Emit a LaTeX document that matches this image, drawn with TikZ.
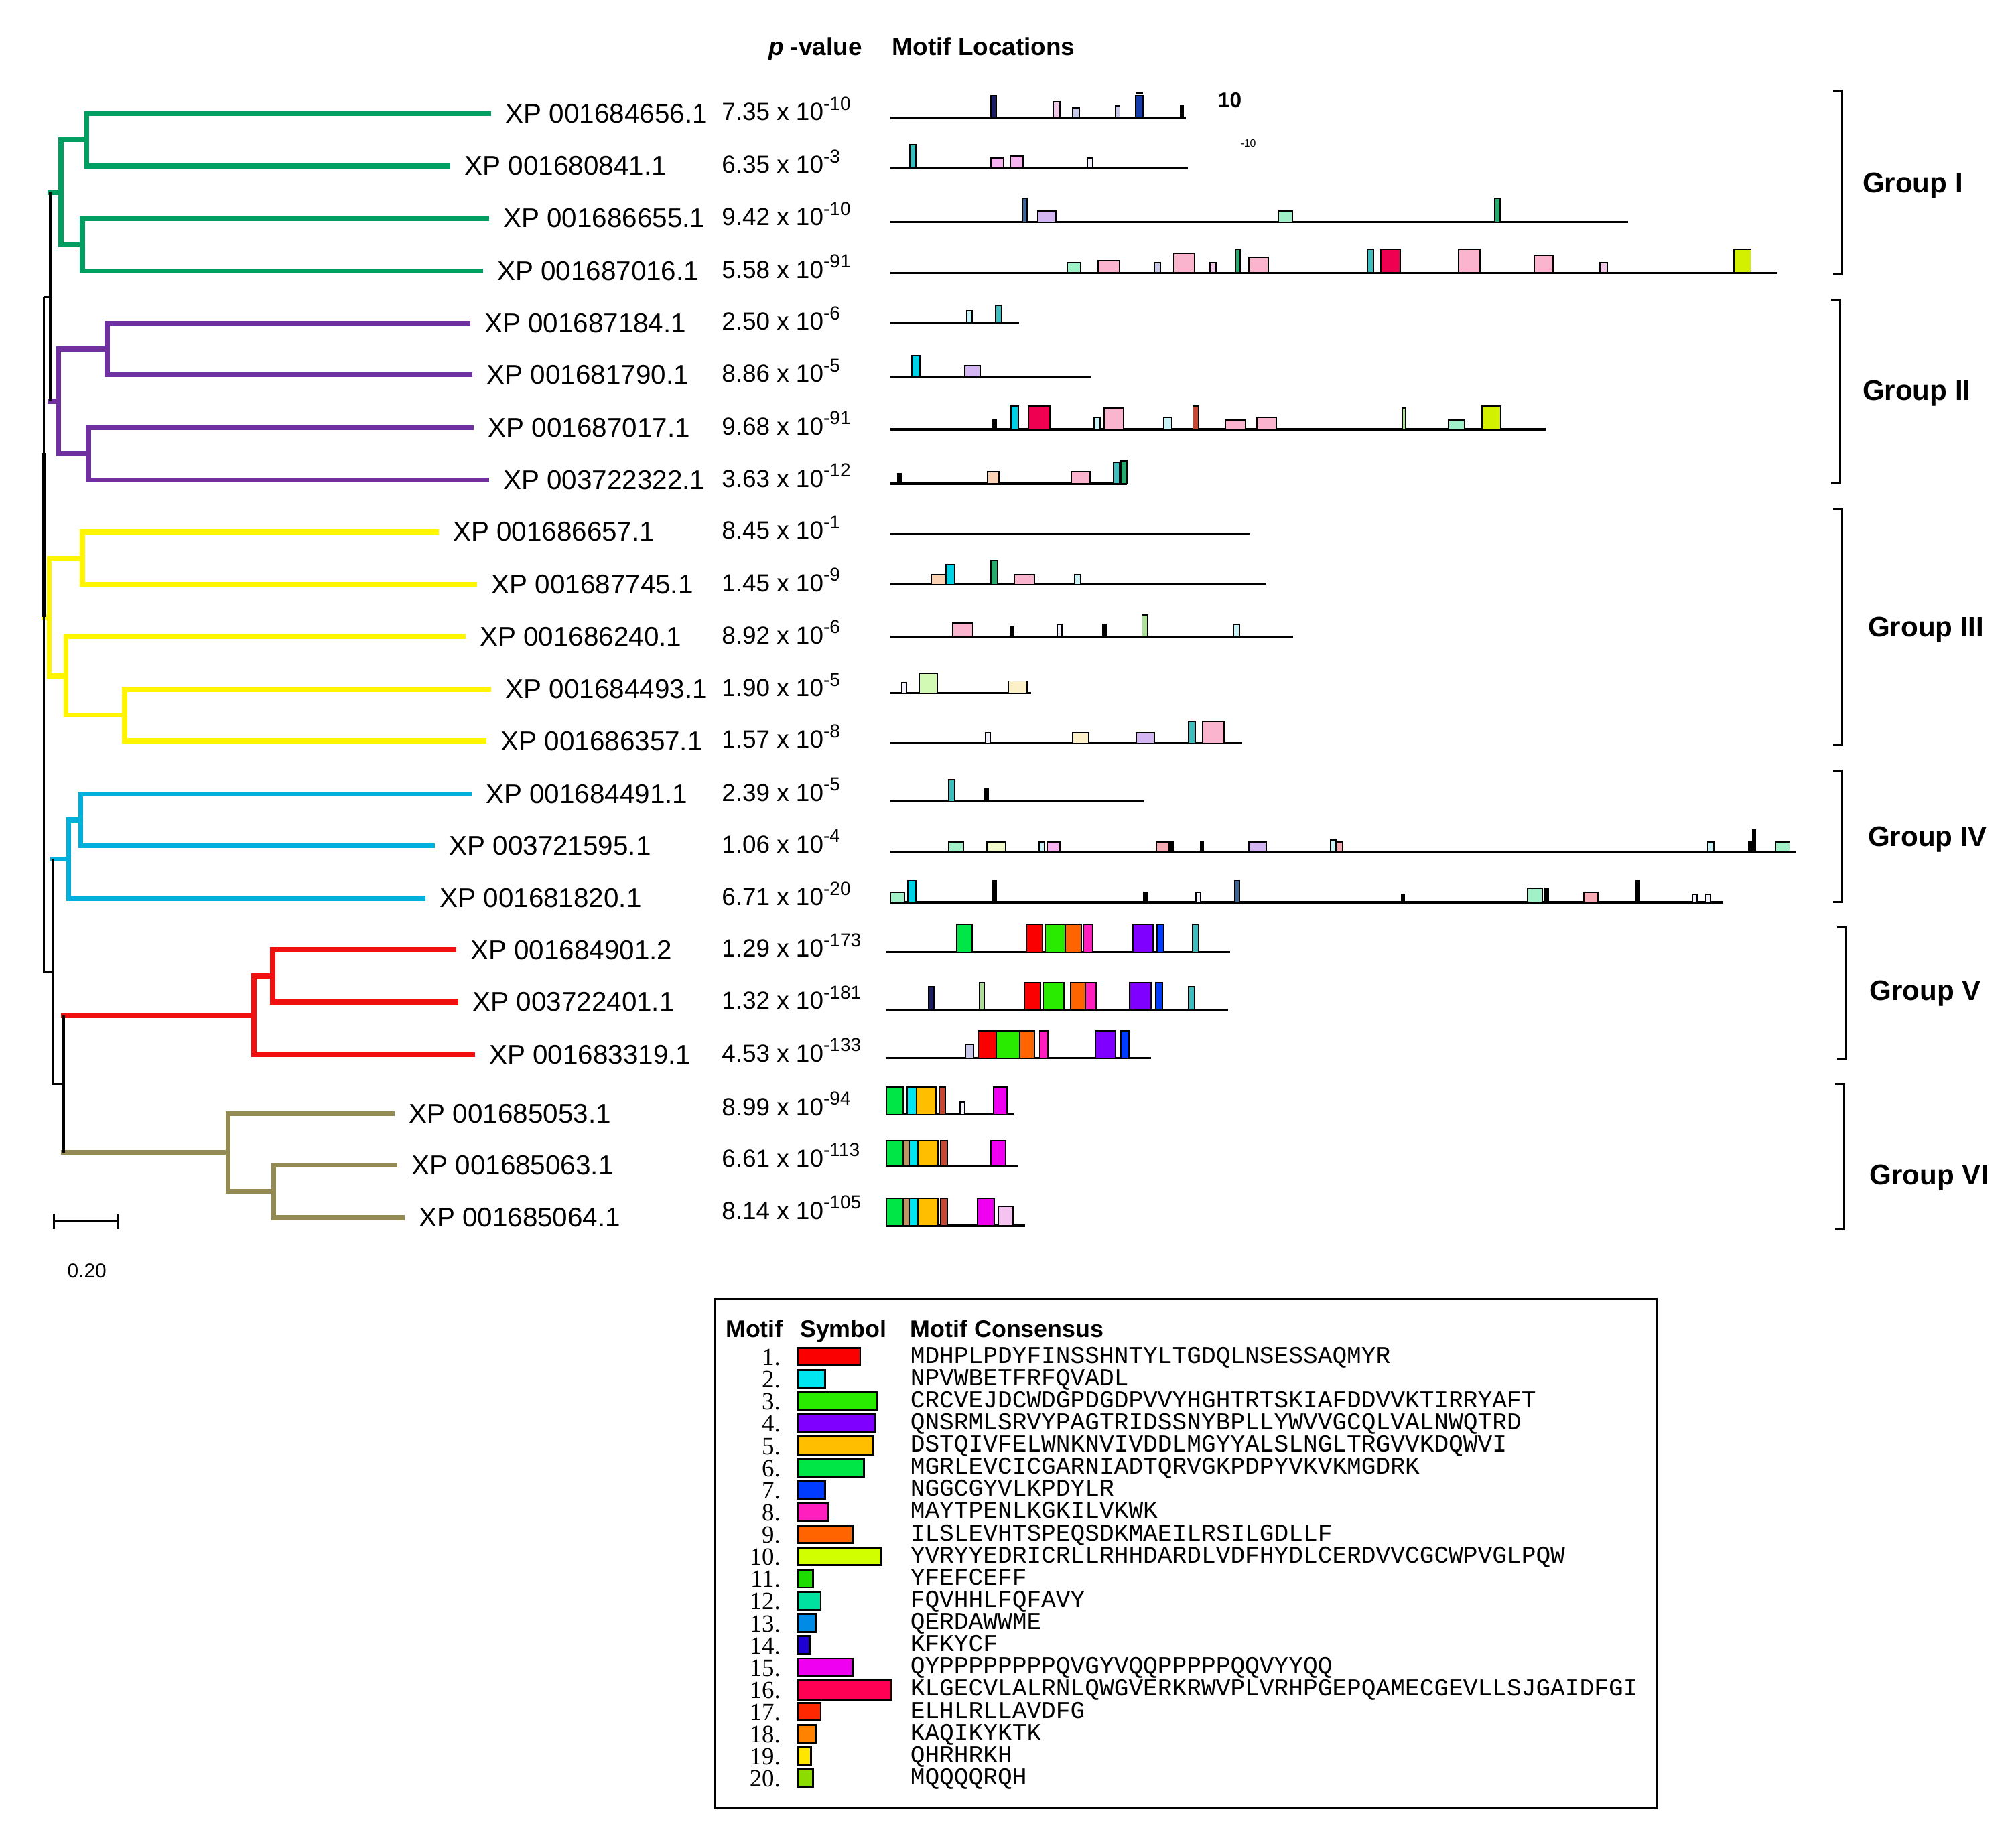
\documentclass[tikz,border=0pt]{standalone}
\usepackage{fontspec}
\setmainfont{Liberation Sans}
\newfontfamily\seqfont{Liberation Mono}
\newfontfamily\numfont{Liberation Serif}
\usepackage{tikz}
\usetikzlibrary{positioning}

% clade colours
\definecolor{cI}{RGB}{0,158,96}
\definecolor{cII}{RGB}{112,48,160}
\definecolor{cIII}{RGB}{255,245,0}
\definecolor{cIV}{RGB}{0,176,220}
\definecolor{cV}{RGB}{240,16,16}
\definecolor{cVI}{RGB}{148,138,84}
% motif colours (legend)
\definecolor{m1}{RGB}{250,0,0}
\definecolor{m2}{RGB}{0,230,240}
\definecolor{m3}{RGB}{40,235,0}
\definecolor{m4}{RGB}{128,0,255}
\definecolor{m5}{RGB}{255,190,0}
\definecolor{m6}{RGB}{0,230,70}
\definecolor{m7}{RGB}{0,60,255}
\definecolor{m8}{RGB}{255,30,190}
\definecolor{m9}{RGB}{255,100,0}
\definecolor{m10}{RGB}{210,255,0}
\definecolor{m11}{RGB}{30,220,0}
\definecolor{m12}{RGB}{0,225,160}
\definecolor{m13}{RGB}{0,140,230}
\definecolor{m14}{RGB}{30,0,210}
\definecolor{m15}{RGB}{240,0,240}
\definecolor{m16}{RGB}{255,0,85}
\definecolor{m17}{RGB}{255,40,0}
\definecolor{m18}{RGB}{255,130,0}
\definecolor{m19}{RGB}{255,230,0}
\definecolor{m20}{RGB}{140,220,0}
% pale motif colours (tracks)
\definecolor{tNavy}{RGB}{30,30,100}
\definecolor{tBlue}{RGB}{20,60,170}
\definecolor{tPinkV}{RGB}{240,200,230}
\definecolor{tLavG}{RGB}{200,200,232}
\definecolor{tWhite}{RGB}{242,242,255}
\definecolor{tTeal}{RGB}{60,190,190}
\definecolor{tMagL}{RGB}{245,180,240}
\definecolor{tSteel}{RGB}{60,100,150}
\definecolor{tLav}{RGB}{212,182,242}
\definecolor{tMint}{RGB}{160,240,200}
\definecolor{tGreen}{RGB}{40,170,110}
\definecolor{tPink}{RGB}{250,180,205}
\definecolor{tCrim}{RGB}{240,0,80}
\definecolor{tYGr}{RGB}{210,240,0}
\definecolor{tCyan}{RGB}{0,210,230}
\definecolor{tLCyan}{RGB}{200,242,245}
\definecolor{tPeach}{RGB}{252,210,180}
\definecolor{tLGreen}{RGB}{210,250,180}
\definecolor{tPaleG}{RGB}{170,225,150}
\definecolor{tLYel}{RGB}{252,240,200}
\definecolor{tLYG}{RGB}{240,250,205}
\definecolor{tLPink}{RGB}{245,195,240}
\definecolor{tBrick}{RGB}{200,70,50}
\definecolor{tSalmon}{RGB}{245,170,180}
\definecolor{tTan}{RGB}{190,150,100}

\newcommand{\pexp}[1]{\raisebox{0.42em}{\fontsize{8}{8}\selectfont #1}}

\begin{document}
\begin{tikzpicture}[x=0.01919cm, y=-0.01919cm,
  stem/.style={draw=black, line width=0.9pt},
  cladeI/.style={draw=cI, line width=2.1pt, line cap=rect},
  cladeII/.style={draw=cII, line width=2.1pt, line cap=rect},
  cladeIII/.style={draw=cIII, line width=2.1pt, line cap=rect},
  cladeIV/.style={draw=cIV, line width=2.1pt, line cap=rect},
  cladeV/.style={draw=cV, line width=2.1pt, line cap=rect},
  cladeVI/.style={draw=cVI, line width=2.1pt, line cap=rect},
  leaf/.style={inner sep=0pt, font=\fontsize{11.5}{12}\selectfont},
  pval/.style={inner sep=0pt, anchor=base west, font=\fontsize{10.5}{12}\selectfont},
  head/.style={inner sep=0pt, anchor=base west, font=\bfseries\fontsize{10.5}{12}\selectfont},
  grouplab/.style={inner sep=0pt, anchor=base west, font=\bfseries\fontsize{12}{14}\selectfont},
  brk/.style={draw=black, line width=0.8pt},
  track/.style={draw=black, line width=0.9pt},
  mbar/.style={draw=black, line width=0.55pt},
  sym/.style={draw=black, line width=0.8pt},
  lhead/.style={inner sep=0pt, anchor=base west, font=\bfseries\fontsize{10.2}{12}\selectfont},
  numlab/.style={inner sep=0pt, anchor=base east, font=\numfont\fontsize{10.5}{11}\selectfont},
  seqlab/.style={inner sep=0pt, anchor=base west, font=\seqfont\fontsize{10.3}{11}\selectfont}]
  \useasboundingbox (0,0) rectangle (1568,1431);

  % leaves (branch ends)
  \coordinate (l1) at (380.2,88.2);
  \coordinate (l2) at (348.4,129.2);
  \coordinate (l3) at (378.4,169.9);
  \coordinate (l4) at (373.6,210.9);
  \coordinate (l5) at (363.7,251.3);
  \coordinate (l6) at (365.6,291.7);
  \coordinate (l7) at (366.7,332.6);
  \coordinate (l8) at (378.4,373.3);
  \coordinate (l9) at (339.2,413.7);
  \coordinate (l10) at (369.2,454.6);
  \coordinate (l11) at (360.1,495.2);
  \coordinate (l12) at (380.2,536.2);
  \coordinate (l13) at (376.5,576.4);
  \coordinate (l14) at (364.8,617.7);
  \coordinate (l15) at (336.3,657.9);
  \coordinate (l16) at (329.0,698.8);
  \coordinate (l17) at (352.8,739.0);
  \coordinate (l18) at (354.6,779.6);
  \coordinate (l19) at (367.4,820.6);
  \coordinate (l20) at (305.2,866.2);
  \coordinate (l21) at (307.1,906.4);
  \coordinate (l22) at (312.6,947.4);
  % inner nodes
  \coordinate (g12) at (67.6,108.7);
  \coordinate (g34) at (64.0,190.4);
  \coordinate (gI) at (47.5,149.5);
  \coordinate (p56) at (83.3,271.5);
  \coordinate (p78) at (68.7,353.0);
  \coordinate (pII) at (45.7,312.2);
  \coordinate (nGP) at (39.1,230.9);
  \coordinate (y910) at (64.0,434.2);
  \coordinate (y1213) at (96.9,556.3);
  \coordinate (y11) at (51.2,525.8);
  \coordinate (yIII) at (38.2,480.0);
  \coordinate (b1415) at (62.9,637.8);
  \coordinate (bIV) at (53.5,668.3);
  \coordinate (r1718) at (212.0,759.3);
  \coordinate (rV) at (197.4,790.0);
  \coordinate (o2122) at (212.8,926.9);
  \coordinate (oVI) at (177.3,896.6);
  \coordinate (nRO) at (49.5,843.3);
  \coordinate (nLow) at (40.8,755.8);
  \coordinate (root) at (34.2,493.4);

  % group I
  \draw[cladeI] (g12) |- (l1);
  \draw[cladeI] (g12) |- (l2);
  \draw[cladeI] (g34) |- (l3);
  \draw[cladeI] (g34) |- (l4);
  \draw[cladeI] (gI) |- (g12);
  \draw[cladeI] (gI) |- (g34);
  % group II
  \draw[cladeII] (p56) |- (l5);
  \draw[cladeII] (p56) |- (l6);
  \draw[cladeII] (p78) |- (l7);
  \draw[cladeII] (p78) |- (l8);
  \draw[cladeII] (pII) |- (p56);
  \draw[cladeII] (pII) |- (p78);
  % group III
  \draw[cladeIII] (y910) |- (l9);
  \draw[cladeIII] (y910) |- (l10);
  \draw[cladeIII] (y1213) |- (l12);
  \draw[cladeIII] (y1213) |- (l13);
  \draw[cladeIII] (y11) |- (l11);
  \draw[cladeIII] (y11) |- (y1213);
  \draw[cladeIII] (yIII) |- (y910);
  \draw[cladeIII] (yIII) |- (y11);
  % group IV
  \draw[cladeIV] (b1415) |- (l14);
  \draw[cladeIV] (b1415) |- (l15);
  \draw[cladeIV] (bIV) |- (b1415);
  \draw[cladeIV] (bIV) |- (l16);
  % group V
  \draw[cladeV] (r1718) |- (l17);
  \draw[cladeV] (r1718) |- (l18);
  \draw[cladeV] (rV) |- (r1718);
  \draw[cladeV] (rV) |- (l19);
  % group VI
  \draw[cladeVI] (o2122) |- (l21);
  \draw[cladeVI] (o2122) |- (l22);
  \draw[cladeVI] (oVI) |- (l20);
  \draw[cladeVI] (oVI) |- (o2122);

  % black stems
  \draw[cladeI] (nGP |- gI) -- (gI);
  \draw[cladeII] (nGP |- pII) -- (pII);
  \draw[stem] (nGP |- gI) -- (nGP |- pII);
  \draw[cladeV] (nRO |- rV) -- (rV);
  \draw[cladeVI] (nRO |- oVI) -- (oVI);
  \draw[stem] (nRO |- rV) -- (nRO |- oVI);
  \draw[cladeIV] (nLow |- bIV) -- (bIV);
  \draw[stem] (nLow |- bIV) -- (nLow |- nRO) -- (nRO);
  \draw[cladeIII] (root |- yIII) -- (yIII);
  \draw[stem] (root |- nGP) -- (root |- nLow) -- (nLow);
  \draw[stem] (root |- nGP) -- (nGP);
  \draw[stem, line width=2pt] (root |- p78) -- (root |- yIII);

  % scale bar
  \coordinate (sa) at (42.0,950.3);
  \coordinate (sb) at (92.1,950.3);
  \draw[stem] (sa) -- (sb);
  \draw[stem] ([yshift=0.115cm]sa) -- ([yshift=-0.115cm]sa);
  \draw[stem] ([yshift=0.115cm]sb) -- ([yshift=-0.115cm]sb);
  \node[inner sep=0pt, font=\fontsize{8.5}{10}\selectfont] (scale) at (67.6,988.4) {0.20};

  % leaf labels
  \node[leaf, right=0.245cm of l1] (t1) {XP 001684656.1};
  \node[leaf, right=0.245cm of l2] (t2) {XP 001680841.1};
  \node[leaf, right=0.245cm of l3] (t3) {XP 001686655.1};
  \node[leaf, right=0.245cm of l4] (t4) {XP 001687016.1};
  \node[leaf, right=0.245cm of l5] (t5) {XP 001687184.1};
  \node[leaf, right=0.245cm of l6] (t6) {XP 001681790.1};
  \node[leaf, right=0.245cm of l7] (t7) {XP 001687017.1};
  \node[leaf, right=0.245cm of l8] (t8) {XP 003722322.1};
  \node[leaf, right=0.245cm of l9] (t9) {XP 001686657.1};
  \node[leaf, right=0.245cm of l10] (t10) {XP 001687745.1};
  \node[leaf, right=0.245cm of l11] (t11) {XP 001686240.1};
  \node[leaf, right=0.245cm of l12] (t12) {XP 001684493.1};
  \node[leaf, right=0.245cm of l13] (t13) {XP 001686357.1};
  \node[leaf, right=0.245cm of l14] (t14) {XP 001684491.1};
  \node[leaf, right=0.245cm of l15] (t15) {XP 003721595.1};
  \node[leaf, right=0.245cm of l16] (t16) {XP 001681820.1};
  \node[leaf, right=0.245cm of l17] (t17) {XP 001684901.2};
  \node[leaf, right=0.245cm of l18] (t18) {XP 003722401.1};
  \node[leaf, right=0.245cm of l19] (t19) {XP 001683319.1};
  \node[leaf, right=0.245cm of l20] (t20) {XP 001685053.1};
  \node[leaf, right=0.245cm of l21] (t21) {XP 001685063.1};
  \node[leaf, right=0.245cm of l22] (t22) {XP 001685064.1};

  % p-values
  \node[head, anchor=base east] (hp) at (670.8,42.8) {\textit{p} -value};
  \node[head] (hm) at (693.7,42.8) {Motif Locations};
  \node[pval] (pv1) at (561,93.8) {7.35 x 10\pexp{-10}};
  \node[pval] (pv2) at (561,134.8) {6.35 x 10\pexp{-3}};
  \node[pval] (pv3) at (561,175.5) {9.42 x 10\pexp{-10}};
  \node[pval] (pv4) at (561,216.5) {5.58 x 10\pexp{-91}};
  \node[pval] (pv5) at (561,256.9) {2.50 x 10\pexp{-6}};
  \node[pval] (pv6) at (561,297.3) {8.86 x 10\pexp{-5}};
  \node[pval] (pv7) at (561,338.2) {9.68 x 10\pexp{-91}};
  \node[pval] (pv8) at (561,378.9) {3.63 x 10\pexp{-12}};
  \node[pval] (pv9) at (561,419.3) {8.45 x 10\pexp{-1}};
  \node[pval] (pv10) at (561,460.2) {1.45 x 10\pexp{-9}};
  \node[pval] (pv11) at (561,500.8) {8.92 x 10\pexp{-6}};
  \node[pval] (pv12) at (561,541.8) {1.90 x 10\pexp{-5}};
  \node[pval] (pv13) at (561,582.0) {1.57 x 10\pexp{-8}};
  \node[pval] (pv14) at (561,623.3) {2.39 x 10\pexp{-5}};
  \node[pval] (pv15) at (561,663.5) {1.06 x 10\pexp{-4}};
  \node[pval] (pv16) at (561,704.4) {6.71 x 10\pexp{-20}};
  \node[pval] (pv17) at (561,744.6) {1.29 x 10\pexp{-173}};
  \node[pval] (pv18) at (561,785.2) {1.32 x 10\pexp{-181}};
  \node[pval] (pv19) at (561,826.2) {4.53 x 10\pexp{-133}};
  \node[pval] (pv20) at (561,867.8) {8.99 x 10\pexp{-94}};
  \node[pval] (pv21) at (561,908.0) {6.61 x 10\pexp{-113}};
  \node[pval] (pv22) at (561,948.5) {8.14 x 10\pexp{-105}};

  % motif tracks
  \draw[track] (692.3,91.7) -- (922.6,91.7);
  \foreach \xa/\xb/\h/\c in {770.5/774.7/17/tNavy, 819.3/824.4/12.3/tPinkV, 834.2/839.3/7.9/tLavG, 867.7/871.0/9.3/tLavG, 883.5/889.1/17/tBlue, 918.4/920.3/9.3/black}
    \draw[mbar, fill=\c] (\xa,91.7) rectangle (\xb,{91.7-\h});
  \fill (883.5,71.6) rectangle (889.1,72.8);
  \node[inner sep=0pt, font=\bfseries\fontsize{9}{10}\selectfont] (ten) at (956.5,78.2) {10};
  \node[inner sep=0pt, font=\fontsize{4.5}{5}\selectfont] (mten) at (970.8,111.4) {-10};

  \draw[track] (692.3,130.8) -- (924.0,130.8);
  \foreach \xa/\xb/\h/\c in {707.7/712.4/18.1/tTeal, 770.9/780.7/7.9/tMagL, 785.8/795.6/9.3/tMagL, 845.9/850.0/7.9/tWhite}
    \draw[mbar, fill=\c] (\xa,130.8) rectangle (\xb,{130.8-\h});

  \draw[track] (692.3,172.8) -- (1266.1,172.8);
  \foreach \xa/\xb/\h/\c in {795.1/798.9/18.4/tSteel, 807.2/821.2/8.8/tLav, 994.3/1005.0/8.8/tMint, 1162.8/1166.5/18.4/tGreen}
    \draw[mbar, fill=\c] (\xa,172.8) rectangle (\xb,{172.8-\h});

  \draw[track] (692.3,212.2) -- (1382.4,212.2);
  \foreach \xa/\xb/\h/\c in {830.0/840.7/7.7/tMint, 854.2/870.5/9.3/tPink, 898.0/902.6/7.7/tLavG, 912.9/929.1/15.4/tPink, 941.2/945.9/7.7/tPinkV, 960.8/964.5/18.4/tGreen, 971.5/986.4/12.3/tPink, 1063.6/1068.3/18.4/tTeal, 1073.9/1089.2/18.4/tCrim, 1134.3/1151.1/18.4/tPink, 1193.4/1207.9/13.7/tPink, 1244.2/1250.2/7.7/tPinkV, 1348.4/1361.9/18.4/tYGr}
    \draw[mbar, fill=\c] (\xa,212.2) rectangle (\xb,{212.2-\h});

  \draw[track] (692.3,251.2) -- (792.8,251.2);
  \foreach \xa/\xb/\h/\c in {751.9/756.0/9.3/tLCyan, 774.2/778.8/13.7/tTeal}
    \draw[mbar, fill=\c] (\xa,251.2) rectangle (\xb,{251.2-\h});

  \draw[track] (692.3,293.6) -- (848.6,293.6);
  \foreach \xa/\xb/\h/\c in {709.0/715.6/16.7/tCyan, 750.5/762.6/9.3/tLav}
    \draw[mbar, fill=\c] (\xa,293.6) rectangle (\xb,{293.6-\h});

  \draw[track] (692.3,334.0) -- (1202.3,334.0);
  \foreach \xa/\xb/\h/\c in {772.3/774.7/7.4/black, 786.3/792.3/18.1/tCyan, 799.8/816.5/18.1/tCrim, 851.0/855.6/9.3/tLCyan, 858.9/873.8/16.7/tPink, 905.0/911.5/9.3/tLCyan, 927.8/932.4/18.1/tBrick, 953.3/968.7/7.4/tPink, 977.5/992.9/9.3/tPink, 1090.6/1093.4/16.7/tPaleG, 1126.4/1139.0/7.4/tMint, 1152.5/1167.4/18.1/tYGr}
    \draw[mbar, fill=\c] (\xa,334.0) rectangle (\xb,{334.0-\h});

  \draw[track] (692.3,376.2) -- (876.6,376.2);
  \foreach \xa/\xb/\h/\c in {698.3/701.1/7.7/black, 768.1/777.0/9.1/tPeach, 833.3/847.7/9.1/tPink, 865.9/870.5/16.5/tTeal, 871.9/876.6/17.9/tGreen}
    \draw[mbar, fill=\c] (\xa,376.2) rectangle (\xb,{376.2-\h});

  \draw[track] (692.3,415.0) -- (972.0,415.0);

  \draw[track] (692.3,454.7) -- (984.5,454.7);
  \foreach \xa/\xb/\h/\c in {724.4/735.6/7.8/tPeach, 736.0/742.5/15.3/tCyan, 770.9/776.1/18.6/tGreen, 789.1/804.4/7.8/tPink, 835.6/840.7/7.8/tLCyan}
    \draw[mbar, fill=\c] (\xa,454.7) rectangle (\xb,{454.7-\h});

  \draw[track] (692.3,495.4) -- (1005.5,495.4);
  \foreach \xa/\xb/\h/\c in {741.2/756.5/10.8/tPink, 785.8/788.1/8.0/black, 822.1/825.8/9.5/tWhite, 857.9/860.3/9.5/black, 888.2/892.4/17.1/tPaleG, 959.4/964.0/9.5/tLCyan}
    \draw[mbar, fill=\c] (\xa,495.4) rectangle (\xb,{495.4-\h});

  \draw[track] (692.3,539.2) -- (802.1,539.2);
  \foreach \xa/\xb/\h/\c in {701.6/705.3/8.0/tWhite, 715.1/729.1/15.6/tLGreen, 784.4/798.9/9.5/tLYel}
    \draw[mbar, fill=\c] (\xa,539.2) rectangle (\xb,{539.2-\h});

  \draw[track] (692.3,578.3) -- (965.9,578.3);
  \foreach \xa/\xb/\h/\c in {766.3/770.0/8.0/tWhite, 834.2/846.8/8.0/tLYel, 884.0/898.0/8.0/tLav, 924.5/929.6/16.9/tTeal, 935.2/951.9/16.9/tPink}
    \draw[mbar, fill=\c] (\xa,578.3) rectangle (\xb,{578.3-\h});

  \draw[track] (692.3,623.5) -- (889.6,623.5);
  \foreach \xa/\xb/\h/\c in {737.9/742.5/17.1/tTeal, 765.8/768.6/9.7/black}
    \draw[mbar, fill=\c] (\xa,623.5) rectangle (\xb,{623.5-\h});

  \draw[track] (692.3,662.6) -- (1396.8,662.6);
  \foreach \xa/\xb/\h/\c in {737.9/749.1/7.8/tMint, 767.7/782.1/7.8/tLYG, 808.2/812.3/7.8/tLCyan, 814.7/824.4/7.8/tMagL, 899.4/909.1/7.8/tSalmon, 909.6/912.9/7.8/black, 933.8/936.1/7.8/black, 971.5/985.0/7.8/tLav, 1034.8/1039.0/9.3/tLCyan, 1039.4/1044.1/7.8/tSalmon, 1328.4/1333.0/7.8/tLCyan, 1360.0/1363.3/7.8/black, 1363.3/1365.1/16.9/black, 1381.0/1392.1/7.8/tMint}
    \draw[mbar, fill=\c] (\xa,662.6) rectangle (\xb,{662.6-\h});

  \draw[track] (692.3,701.9) -- (1339.6,701.9);
  \foreach \xa/\xb/\h/\c in {692.3/703.5/7.6/tMint, 706.3/712.3/16.9/tCyan, 772.3/774.7/16.9/black, 889.6/892.4/7.6/black, 930.1/933.8/7.6/tWhite, 960.3/964.0/16.9/tSteel, 1090.1/1092.5/6.0/black, 1188.3/1199.5/10.8/tMint, 1201.8/1204.1/10.8/black, 1232.1/1242.8/7.6/tSalmon, 1272.6/1274.9/16.9/black, 1316.3/1320.0/6.0/tWhite, 1326.6/1330.3/6.0/tWhite}
    \draw[mbar, fill=\c] (\xa,701.9) rectangle (\xb,{701.9-\h});

  \draw[track] (689.4,740.9) -- (956.9,740.9);
  \foreach \xa/\xb/\h/\c in {743.9/755.9/21.6/m6, 798.4/810.9/21.6/m1, 812.8/828.7/21.6/m3, 828.7/841.2/21.6/m9, 842.7/849.9/21.6/m8, 881.2/896.7/21.6/m4, 900.0/905.3/21.6/m7, 927.5/932.3/21.6/tTeal}
    \draw[mbar, fill=\c] (\xa,740.9) rectangle (\xb,{740.9-\h});

  \draw[track] (689.4,785.6) -- (955.4,785.6);
  \foreach \xa/\xb/\h/\c in {722.2/726.6/18.1/tNavy, 761.7/765.6/21.3/tPaleG, 796.9/809.4/21.3/m1, 811.4/827.3/21.3/m3, 832.6/844.1/21.3/m9, 844.1/852.3/21.3/m8, 878.8/895.2/21.3/m4, 899.1/903.9/21.3/m7, 924.6/929.0/18.1/tTeal}
    \draw[mbar, fill=\c] (\xa,785.6) rectangle (\xb,{785.6-\h});

  \draw[track] (689.4,823.1) -- (895.2,823.1);
  \foreach \xa/\xb/\h/\c in {751.1/757.4/10.7/tLavG, 760.8/774.7/21.1/m1, 774.7/793.0/21.1/m3, 793.0/804.6/21.1/m9, 808.5/815.2/21.1/m8, 851.8/867.7/21.1/m4, 871.6/877.9/21.1/m7}
    \draw[mbar, fill=\c] (\xa,823.1) rectangle (\xb,{823.1-\h});

  \draw[track] (689.4,866.9) -- (788.2,866.9);
  \foreach \xa/\xb/\h/\c in {689.4/702.4/21.1/m6, 705.8/712.6/21.1/m2, 712.6/728.0/21.1/m5, 730.4/735.2/21.1/tBrick, 746.8/750.2/9.5/tWhite, 772.8/783.4/21.1/m15}
    \draw[mbar, fill=\c] (\xa,866.9) rectangle (\xb,{866.9-\h});

  \draw[track] (689.4,907.1) -- (791.6,907.1);
  \foreach \xa/\xb/\h/\c in {689.4/702.4/19.5/m6, 702.4/707.3/19.5/tTan, 707.3/714.0/19.5/m2, 714.0/729.4/19.5/m5, 731.4/736.7/19.5/tBrick, 770.9/782.0/19.5/m15}
    \draw[mbar, fill=\c] (\xa,907.1) rectangle (\xb,{907.1-\h});

  \draw[track] (689.4,953.6) -- (797.4,953.6);
  \foreach \xa/\xb/\h/\c in {689.4/702.4/21.1/m6, 702.4/707.3/21.1/tTan, 707.3/714.0/21.1/m2, 714.0/729.4/21.1/m5, 731.4/736.7/21.1/tBrick, 760.3/773.3/21.1/m15, 776.7/787.8/15.0/tLPink}
    \draw[mbar, fill=\c] (\xa,953.6) rectangle (\xb,{953.6-\h});

  % group brackets
  \draw[brk] (1425.8,70.6) -- (1432.7,70.6) -- (1432.7,213.6) -- (1425.8,213.6);
  \draw[brk] (1424.4,233.1) -- (1431.3,233.1) -- (1431.3,376.1) -- (1424.4,376.1);
  \draw[brk] (1425.8,396.1) -- (1432.7,396.1) -- (1432.7,579.4) -- (1425.8,579.4);
  \draw[brk] (1425.8,599.5) -- (1432.7,599.5) -- (1432.7,701.5) -- (1425.8,701.5);
  \draw[brk] (1428.8,721.5) -- (1435.7,721.5) -- (1435.7,823.8) -- (1428.8,823.8);
  \draw[brk] (1427.5,843.6) -- (1434.4,843.6) -- (1434.4,956.3) -- (1427.5,956.3);
  \node[grouplab] (gpI) at (1448.3,149.8) {Group I};
  \node[grouplab] (gpII) at (1448.3,311.4) {Group II};
  \node[grouplab] (gpIII) at (1452.5,495.3) {Group III};
  \node[grouplab] (gpIV) at (1452.5,658.3) {Group IV};
  \node[grouplab] (gpV) at (1453.9,778.3) {Group V};
  \node[grouplab] (gpVI) at (1453.9,921.5) {Group VI};

  % legend
  \draw[line width=0.9pt] (555.9,1010.6) rectangle (1288.3,1406.8);
  \node[lhead] (lm) at (564.1,1040.4) {Motif};
  \node[lhead] (ls) at (621.9,1040.4) {Symbol};
  \node[lhead] (lc) at (707.7,1040.4) {Motif Consensus};
  \foreach \k/\c/\xr/\h/\s in {
    1/m1/669.1/13.8/MDHPLPDYFINSSHNTYLTGDQLNSESSAQMYR,
    2/m2/641.7/13.8/NPVWBETFRFQVADL,
    3/m3/682.1/13.8/CRCVEJDCWDGPDGDPVVYHGHTRTSKIAFDDVVKTIRRYAFT,
    4/m4/680.7/13.8/QNSRMLSRVYPAGTRIDSSNYBPLLYWVVGCQLVALNWQTRD,
    5/m5/679.2/13.8/DSTQIVFELWNKNVIVDDLMGYYALSLNGLTRGVVKDQWVI,
    6/m6/672.0/13.8/MGRLEVCICGARNIADTQRVGKPDPYVKVKMGDRK,
    7/m7/641.7/13.8/NGGCGYVLKPDYLR,
    8/m8/644.5/13.8/MAYTPENLKGKILVKWK,
    9/m9/662.9/13.8/ILSLEVHTSPEQSDKMAEILRSILGDLLF,
    10/m10/685.5/13.8/YVRYYEDRICRLLRHHDARDLVDFHYDLCERDVVCGCWPVGLPQW,
    11/m11/632.5/13.8/YFEFCEFF,
    12/m12/638.3/13.8/FQVHHLFQFAVY,
    13/m13/634.4/13.8/QERDAWWME,
    14/m14/629.6/13.8/KFKYCF,
    15/m15/662.9/13.8/QYPPPPPPPPQVGYVQQPPPPPQQVYYQQ,
    16/m16/693.2/15.6/KLGECVLALRNLQWGVERKRWVPLVRHPGEPQAMECGEVLLSJGAIDFGI,
    17/m17/638.3/13.8/ELHLRLLAVDFG,
    18/m18/634.4/13.8/KAQIKYKTK,
    19/m19/631.0/13.8/QHRHRKH,
    20/m20/632.5/13.8/MQQQQRQH}
  {
    \pgfmathsetmacro{\yk}{1055.5+(\k-1)*17.26}
    \draw[sym, fill=\c] (620.4,{\yk-\h/2}) rectangle (\xr,{\yk+\h/2});
    \node[numlab] (num\k) at (607.4,{\yk+6.8}) {\k.};
    \node[seqlab] (seq\k) at (707.7,{\yk+5}) {\s};
  }
\end{tikzpicture}
\end{document}
